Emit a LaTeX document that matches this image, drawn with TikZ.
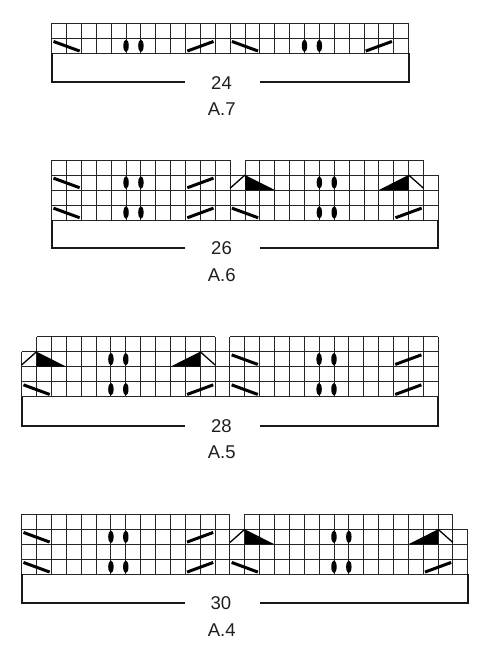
\documentclass[tikz,border=0pt]{standalone}
\usepackage{fontspec}
\setmainfont{Liberation Sans}
\tikzset{
  gridln/.style={line width=0.9pt, draw=black!85},
  brk/.style={line width=2pt, draw=black!90, line join=miter},
  slashln/.style={line width=3pt, draw=black},
  legln/.style={line width=1.3pt, draw=black},
  lbl/.style={font=\fontsize{18.5}{20}\selectfont, text=black!88, inner sep=0pt},
  cellunits/.style={x=14.87pt, y=15pt},
}
% symbols: #1 = gridline x, #2 = row top index (row r spans r-1..r)
\newcommand\kBs[2]{\draw[slashln] (#1+0.12,#2-0.21) -- (#1+1.88,#2-0.85);}
\newcommand\kFs[2]{\draw[slashln] (#1+0.12,#2-0.85) -- (#1+1.88,#2-0.21);}
\newcommand\kOv[2]{\fill[black] (#1,#2-0.5) ellipse [x radius=2.7pt, y radius=6.3pt];}
\newcommand\kLt[2]{\draw[legln] (#1,#2-0.88) -- (#1+1,#2);
  \fill[black] (#1+1,#2) -- (#1+1,#2-1) -- (#1+3,#2-1) -- cycle;}
\newcommand\kRt[2]{\draw[legln] (#1,#2-0.88) -- (#1-1,#2);
  \fill[black] (#1-1,#2) -- (#1-1,#2-1) -- (#1-3,#2-1) -- cycle;}
\newcommand\kGrid[2]{%
  \foreach \i in {0,...,#1} \draw[gridln] (\i,0) -- (\i,#2);
  \foreach \j in {0,...,#2} \draw[gridln] (0,\j) -- (#1,\j);}
\newcommand\kTop[3]{%
  \foreach \i in {#1,...,#2} \draw[gridln] (\i,#3-1) -- (\i,#3);
  \draw[gridln] (#1,#3) -- (#2,#3);}
\begin{document}
\begin{tikzpicture}
\useasboundingbox[fill=white] (0,0) rectangle (490pt,-650pt);

% ---------------- A.7 ----------------
\begin{scope}[shift={(51.7pt,-53.3pt)}, cellunits]
  \kGrid{24}{2}
  \kBs{0}{1} \kOv{5}{1} \kOv{6}{1} \kFs{9}{1}
  \kBs{12}{1} \kOv{17}{1} \kOv{18}{1} \kFs{21}{1}
  \coordinate (a7l) at (0,0);
  \coordinate (a7r) at (24,0);
\end{scope}
\coordinate (a7gl) at (185pt,-82.5pt);
\coordinate (a7gr) at (260pt,-82.5pt);
\draw[brk] (a7l) |- (a7gl);
\draw[brk] (a7gr) -| (a7r);
\node[lbl] (n24) at (221.5pt,-82.8pt) {24};
\node[lbl] (t7) at (221.7pt,-109pt) {A.7};

% ---------------- A.6 ----------------
\begin{scope}[shift={(51.7pt,-220pt)}, cellunits]
  \kGrid{26}{3}
  \kTop{0}{12}{4} \kTop{13}{25}{4}
  \kBs{0}{1} \kOv{5}{1} \kOv{6}{1} \kFs{9}{1}
  \kBs{12}{1} \kOv{18}{1} \kOv{19}{1} \kFs{23}{1}
  \kBs{0}{3} \kOv{5}{3} \kOv{6}{3} \kFs{9}{3}
  \kLt{12}{3} \kOv{18}{3} \kOv{19}{3} \kRt{25}{3}
  \coordinate (a6l) at (0,0);
  \coordinate (a6r) at (26,0);
\end{scope}
\coordinate (a6gl) at (185pt,-248.3pt);
\coordinate (a6gr) at (260pt,-248.3pt);
\draw[brk] (a6l) |- (a6gl);
\draw[brk] (a6gr) -| (a6r);
\node[lbl] (n26) at (221.5pt,-248.6pt) {26};
\node[lbl] (t6) at (221.7pt,-274.8pt) {A.6};

% ---------------- A.5 ----------------
\begin{scope}[shift={(21.7pt,-396.7pt)}, cellunits]
  \kGrid{28}{3}
  \kTop{1}{13}{4} \kTop{14}{28}{4}
  \kBs{0}{1} \kOv{6}{1} \kOv{7}{1} \kFs{11}{1}
  \kBs{14}{1} \kOv{20}{1} \kOv{21}{1} \kFs{25}{1}
  \kLt{0}{3} \kOv{6}{3} \kOv{7}{3} \kRt{13}{3}
  \kBs{14}{3} \kOv{20}{3} \kOv{21}{3} \kFs{25}{3}
  \coordinate (a5l) at (0,0);
  \coordinate (a5r) at (28,0);
\end{scope}
\coordinate (a5gl) at (185pt,-426pt);
\coordinate (a5gr) at (260pt,-426pt);
\draw[brk] (a5l) |- (a5gl);
\draw[brk] (a5gr) -| (a5r);
\node[lbl] (n28) at (221.3pt,-426.3pt) {28};
\node[lbl] (t5) at (221.7pt,-452.5pt) {A.5};

% ---------------- A.4 ----------------
\begin{scope}[shift={(21.7pt,-574.3pt)}, cellunits]
  \kGrid{30}{3}
  \kTop{0}{14}{4} \kTop{15}{29}{4}
  \kBs{0}{1} \kOv{6}{1} \kOv{7}{1} \kFs{11}{1}
  \kBs{14}{1} \kOv{21}{1} \kOv{22}{1} \kFs{27}{1}
  \kBs{0}{3} \kOv{6}{3} \kOv{7}{3} \kFs{11}{3}
  \kLt{14}{3} \kOv{21}{3} \kOv{22}{3} \kRt{29}{3}
  \coordinate (a4l) at (0,0);
  \coordinate (a4r) at (30,0);
\end{scope}
\coordinate (a4gl) at (185pt,-603.3pt);
\coordinate (a4gr) at (260pt,-603.3pt);
\draw[brk] (a4l) |- (a4gl);
\draw[brk] (a4gr) -| (a4r);
\node[lbl] (n30) at (220.8pt,-603.6pt) {30};
\node[lbl] (t4) at (221.7pt,-629.7pt) {A.4};
\end{tikzpicture}
\end{document}
